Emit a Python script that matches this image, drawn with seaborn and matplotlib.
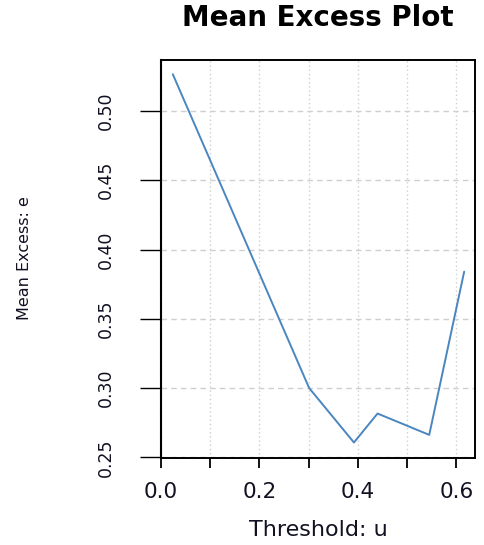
import matplotlib
matplotlib.use("Agg")
import matplotlib.pyplot as plt
import seaborn as sns
import pandas as pd

threshold = [0.024, 0.301, 0.392, 0.440, 0.545, 0.616]
mean_excess = [0.5265, 0.300, 0.2607, 0.2816, 0.2662, 0.384]
x_ticks = [0.0, 0.1, 0.2, 0.3, 0.4, 0.5, 0.6]
x_tick_labels = ["0.0", "", "0.2", "", "0.4", "", "0.6"]
y_ticks = [0.25, 0.30, 0.35, 0.40, 0.45, 0.50]
y_tick_labels = ["0.25", "0.30", "0.35", "0.40", "0.45", "0.50"]

sns.set_style("white")
plt.rcParams['font.family'] = ['DejaVu Sans']

df = pd.DataFrame({"u": threshold, "e": mean_excess})

fig = plt.figure(figsize=(4.85, 5.45), dpi=100)
ax = fig.add_axes([161/485, 1-458/545, (475-161)/485, (458-60)/545])

sns.lineplot(data=df, x="u", y="e", sort=False, estimator=None,
             color="#4a86bf", linewidth=1.4, ax=ax)

ax.set_xlim(0.0, 0.638)
ax.set_ylim(0.2495, 0.5368)

ax.set_xticks(x_ticks)
ax.set_xticklabels(x_tick_labels, fontsize=15.5)
ax.set_yticks(y_ticks)
ax.set_yticklabels(y_tick_labels, fontsize=12.5, rotation=90, va="center")

for xv in x_ticks:
    ax.axvline(xv, color="#cfcfcf", linestyle=(0, (1, 2)), linewidth=1, zorder=0)
for yv in y_ticks:
    ax.axhline(yv, color="#cfcfcf", linestyle=(0, (4, 3)), linewidth=1, zorder=0)

ax.tick_params(axis="x", direction="out", length=7, width=1.3, pad=10,
               colors="black", bottom=True)
ax.tick_params(axis="y", direction="out", length=15, width=1.0, pad=18,
               colors="black", left=True)
for lbl in ax.get_yticklabels() + ax.get_xticklabels():
    lbl.set_color("#111122")

for side in ["top", "right", "bottom"]:
    ax.spines[side].set_visible(True)
    ax.spines[side].set_color("black")
    ax.spines[side].set_linewidth(1.4)
ax.spines["left"].set_visible(True)
ax.spines["left"].set_color("black")
ax.spines["left"].set_linewidth(1.5)
ax.spines["left"].set_linestyle((0, (0.8, 0.8)))

ax.set_xlabel("")
ax.set_ylabel("")
fig.text(318/485, 1-530/545, "Threshold: u", ha="center", va="center",
         fontsize=16, color="#111122")
fig.text(25/485, 1-258/545, "Mean Excess: e", ha="center", va="center",
         rotation=90, fontsize=11.5, color="#111122")
fig.text(318/485, 1-18/545, "Mean Excess Plot", ha="center", va="center",
         fontsize=20, fontweight="bold", color="black")

fig.savefig("out.png", dpi=100)
